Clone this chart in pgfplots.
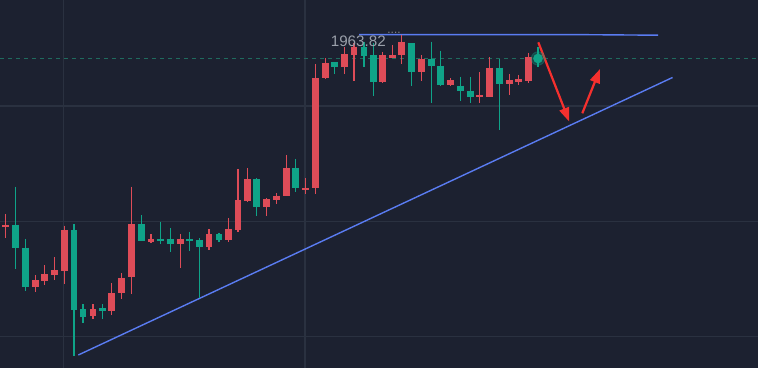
\documentclass[border=0pt]{standalone}
\usepackage{pgfplots}
\pgfplotsset{compat=1.18}
\usepackage{pgfplotstable}
\usepackage{fontspec}
\setmainfont{Liberation Sans}
\usetikzlibrary{arrows.meta}
\definecolor{bg}{HTML}{1C2130}
\definecolor{gridc}{HTML}{2A3140}
\definecolor{cred}{HTML}{DE4C58}
\definecolor{cgreen}{HTML}{0FA388}
\definecolor{dashc}{HTML}{1F6B5E}
\definecolor{bluel}{HTML}{5A7CF2}
\definecolor{arrowc}{HTML}{F5302E}
\definecolor{labc}{HTML}{9AA0AA}

% pixel-based values: x = candle position, h = high, bt = body top, bb = body bottom, l = low
\pgfplotstableread{
x h bt bb l
5.3 214 225 226.5 238
35.5 275 280 286.7 291.7
44.3 265 274 280 285
54.3 257 270 274 280
64.3 225.7 230 270 284
93 304 309 315.7 319
111.7 283 293 310 315
121.7 273 278 292.7 299
131.7 186.7 224 276.7 294
151 234 239 241 242.7
180.5 234 239.3 243.7 268
209 229.3 234.3 246.3 250
228.5 218.3 229.3 239 241.7
238 169.3 200 229.3 231.7
247.7 168 179 200.7 201.7
266.7 198.3 199.3 206.7 215.7
276.3 193.3 195.7 199.3 204
286.7 155 168 195 195.7
305.3 178.3 188 189.6 194
315.3 64 78.3 187.7 194
325.3 58.3 63.3 77.7 79
344.3 47.3 54.3 66.7 74.3
354 42.7 47.3 54 80.7
382.7 52 55.3 81.7 82.7
392.7 45 55.3 57 57
401.7 35 41.7 54 64.3
421.3 55 59.3 71.7 80.7
450.5 78.3 80.3 84 85.7
479.3 72.3 95 96.6 102.7
489.3 57.3 67.7 96.7 97.3
509.3 74 80 83.3 95
518.3 75 79.3 81 85
528.3 52.7 56.7 80 82.7
}\redc

\pgfplotstableread{
x h bt bb l
15.7 186.7 225 247.7 269
25.7 239 247.7 286.7 290.7
74 224 230 309 355.7
83 304 309 316.7 322.7
102.7 304 308.3 310 319
141.7 215 224 240.7 240.7
160.7 221.7 239 240.7 244
170.7 228 239.3 243.7 251.7
189.7 231.7 239 240.7 250.7
199.3 238.3 240.3 246.7 298.3
219 233 234.3 239 241.7
256.7 178.3 179.3 206.7 215.7
295.7 159 168 187.7 191.7
334.7 62 62 66.7 74.3
364 41.7 47.3 55 66.7
373.3 43.3 55.3 81.7 95.7
411.7 43.3 43.3 71.7 85.7
431.5 41.7 59.3 65 102.7
440.7 50.7 65.7 84 85.7
460.5 76.7 85.7 90 100.7
470.5 76.7 90.7 96.7 102.7
499.3 59.3 67.7 83.3 130
538 46.7 56.5 60 66.7
}\greenc

\begin{document}
\begin{tikzpicture}
\begin{axis}[
  width=379pt, height=184pt, scale only axis,
  xmin=0, xmax=758, ymin=0, ymax=368, y dir=reverse,
  axis background/.style={fill=bg},
  axis line style={draw=none},
  xtick={63.5,305}, ytick={106,221.5,336.5},
  xticklabels={}, yticklabels={},
  major tick length=0pt,
  grid=major, grid style={draw=gridc, line width=0.6pt},
  clip=true,
]
% last price dashed line
\addplot[draw=dashc, line width=0.6pt, dash pattern=on 2pt off 2pt] coordinates {(0,58.5) (758,58.5)};
% trend lines
\addplot[draw=bluel, line width=0.7pt] coordinates {(359,34.7) (588,34.7) (658,35.2)};
\addplot[draw=bluel, line width=0.7pt] coordinates {(78.3,355) (672.5,77.5)};
% wicks
\addplot[draw=none, no markers, error bars/.cd, y dir=plus, y explicit, error mark=none,
  error bar style={line width=0.7pt, draw=cred}]
  table[x=x, y=h, y error expr=\thisrow{l}-\thisrow{h}] {\redc};
\addplot[draw=none, no markers, error bars/.cd, y dir=plus, y explicit, error mark=none,
  error bar style={line width=0.7pt, draw=cgreen}]
  table[x=x, y=h, y error expr=\thisrow{l}-\thisrow{h}] {\greenc};
% bodies
\addplot[draw=none, no markers, error bars/.cd, y dir=plus, y explicit, error mark=none,
  error bar style={line width=3.4pt, draw=cred}]
  table[x=x, y=bt, y error expr={\thisrow{bb}-\thisrow{bt}+0.6}] {\redc};
\addplot[draw=none, no markers, error bars/.cd, y dir=plus, y explicit, error mark=none,
  error bar style={line width=3.4pt, draw=cgreen}]
  table[x=x, y=bt, y error expr={\thisrow{bb}-\thisrow{bt}+0.6}] {\greenc};
% last price dot
\addplot[only marks, mark=*, mark size=3.4pt, color=cgreen, opacity=0.3] coordinates {(538,58.5)};
\addplot[only marks, mark=*, mark size=2.2pt, color=cgreen] coordinates {(538,58.5)};
% red arrows
\addplot[draw=arrowc, line width=1.1pt, -{Triangle[length=7pt,width=5pt]}] coordinates {(538.3,42.3) (569.3,121.7)};
\addplot[draw=arrowc, line width=1.1pt, -{Triangle[length=7pt,width=5pt]}] coordinates {(582.3,113.3) (600,69)};
% label
\node[text=labc, font=\fontsize{7.6}{8}\selectfont, inner sep=0pt] at (axis cs:358.3,41) {1963.82};
\node[text=gray!60, font=\fontsize{5}{5}\selectfont, inner sep=0pt] at (axis cs:394,33.5) {····};
\end{axis}
\pgfresetboundingbox
\path[use as bounding box] (current axis.south west) rectangle (current axis.north east);
\end{tikzpicture}
\end{document}
